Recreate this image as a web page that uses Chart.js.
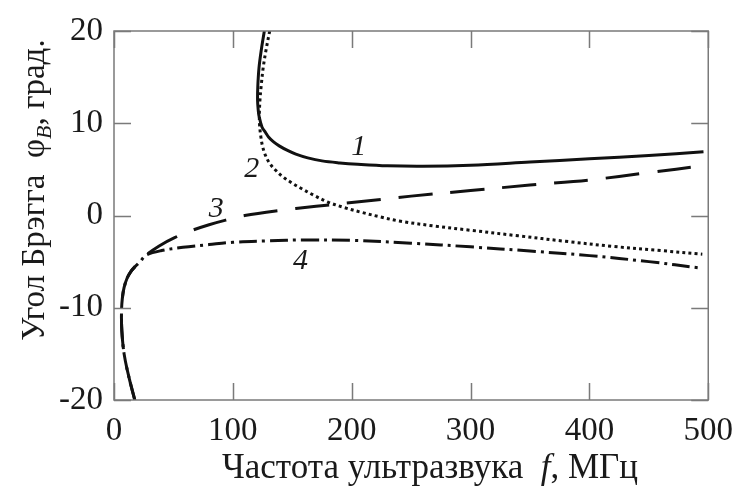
<!DOCTYPE html>
<html>
<head>
<meta charset="utf-8">
<script src="https://cdn.jsdelivr.net/npm/chart.js@4"></script>
<style>
  html, body { margin: 0; padding: 0; background: #fff; }
  #wrap { width: 745px; height: 490px; }
</style>
</head>
<body>
<div id="wrap"><canvas id="braggChart" width="745" height="490"></canvas></div>
<script>
// frequency f (MHz) and Bragg angle (deg) for each curve
const f1   = [126.5, 124, 122, 121, 120.8, 121.3, 122, 124.5, 127.5, 130, 134, 139, 146, 153, 163, 175, 190, 205, 230, 260, 300, 350, 400, 450, 496];
const phi1 = [20, 18, 16, 14, 12.5, 11.5, 10.8, 9.6, 9.0, 8.5, 8.0, 7.55, 7.05, 6.65, 6.25, 5.92, 5.7, 5.55, 5.38, 5.33, 5.45, 5.8, 6.15, 6.5, 6.9];

const f2   = [131, 128, 125.5, 123.8, 122.8, 122.3, 122.5, 123.5, 125, 127.5, 131, 136, 142, 150, 158, 168, 180, 194, 208, 224, 240, 270, 300, 340, 380, 420, 460, 495];
const phi2 = [20, 18, 16, 14, 12.5, 11, 9.8, 8.6, 7.5, 6.5, 5.65, 4.9, 4.2, 3.5, 2.9, 2.2, 1.45, 0.85, 0.35, -0.15, -0.6, -1.15, -1.6, -2.2, -2.8, -3.35, -3.8, -4.2];

const f3   = [17.5, 12.5, 8.5, 6.6, 6.3, 7.0, 8.5, 11, 14, 18, 22, 27, 38, 51, 66, 80, 94, 110, 136, 170, 200, 250, 300, 350, 400, 450, 496];
const phi3 = [-20, -17.5, -15, -12.5, -10.5, -9, -7.8, -6.8, -6.1, -5.5, -5.0, -4.3, -3.3, -2.4, -1.6, -1.0, -0.5, 0, 0.5, 1.0, 1.4, 2.1, 2.7, 3.3, 3.85, 4.65, 5.4];

const f4   = [17.5, 12.5, 8.5, 6.6, 6.3, 7.0, 8.5, 11, 14, 18, 22, 27, 40, 58, 80, 100, 130, 160, 200, 250, 300, 350, 400, 450, 494];
const phi4 = [-20, -17.5, -15, -12.5, -10.5, -9, -7.8, -6.8, -6.1, -5.5, -5.0, -4.3, -3.8, -3.45, -3.15, -2.9, -2.75, -2.65, -2.7, -3.0, -3.4, -3.85, -4.35, -5.0, -5.7];

const xTicks = [0, 100, 200, 300, 400, 500];
const yTicks = [-20, -10, 0, 10, 20];

// curve numbers placed next to their lines
const curveNames = ['1', '2', '3', '4'];
const nameF      = [206, 116, 86, 157];
const namePhi    = [7.4, 5.0, 0.65, -4.9];

const SERIF = '"Liberation Serif", "DejaVu Serif", serif';

function pts(xs, ys) {
  return xs.map((x, i) => ({ x: x, y: ys[i] }));
}

function lineSet(xs, ys, dash) {
  return {
    data: pts(xs, ys),
    borderColor: '#111',
    borderWidth: 3,
    borderDash: dash,
    borderCapStyle: 'butt',
    pointRadius: 0,
    tension: 0.35,
    fill: false
  };
}

// frame, inward ticks, axis titles and curve numbers
const decor = {
  id: 'decor',
  afterDraw(chart) {
    const ctx = chart.ctx;
    const a = chart.chartArea;
    const xs = chart.scales.x, ys = chart.scales.y;
    const tl = 17;
    ctx.save();
    ctx.strokeStyle = '#7a7a7a';
    ctx.lineWidth = 1.5;
    ctx.strokeRect(a.left, a.top, a.right - a.left, a.bottom - a.top);
    ctx.beginPath();
    xTicks.forEach(v => {
      const px = Math.round(xs.getPixelForValue(v)) + 0.5;
      ctx.moveTo(px, a.bottom); ctx.lineTo(px, a.bottom - tl);
      ctx.moveTo(px, a.top); ctx.lineTo(px, a.top + tl);
    });
    yTicks.forEach(v => {
      const py = Math.round(ys.getPixelForValue(v)) + 0.5;
      ctx.moveTo(a.left, py); ctx.lineTo(a.left + tl, py);
      ctx.moveTo(a.right, py); ctx.lineTo(a.right - tl, py);
    });
    ctx.stroke();

    ctx.fillStyle = '#1a1a1a';
    ctx.textBaseline = 'alphabetic';

    // x title
    const xParts = [
      { t: 'Частота ультразвука  ', f: '35px ' + SERIF, dy: 0 },
      { t: 'f', f: 'italic 35px ' + SERIF, dy: 0 },
      { t: ', МГц', f: '35px ' + SERIF, dy: 0 }
    ];
    drawParts(ctx, xParts, 430, 478, 0);

    // y title
    const yParts = [
      { t: 'Угол Брэгга  φ', f: '33px ' + SERIF, dy: 0 },
      { t: 'B', f: 'italic 22px ' + SERIF, dy: 7 },
      { t: ', град.', f: '33px ' + SERIF, dy: 0 }
    ];
    drawParts(ctx, yParts, 44, 190, -Math.PI / 2);

    // curve numbers
    ctx.font = 'italic 30px ' + SERIF;
    ctx.textAlign = 'center';
    ctx.textBaseline = 'middle';
    curveNames.forEach((n, i) => {
      ctx.fillText(n, xs.getPixelForValue(nameF[i]), ys.getPixelForValue(namePhi[i]));
    });
    ctx.restore();
  }
};

function drawParts(ctx, parts, cx, cy, rot) {
  let w = 0;
  parts.forEach(p => { ctx.font = p.f; p.w = ctx.measureText(p.t).width; w += p.w; });
  ctx.save();
  ctx.translate(cx, cy);
  ctx.rotate(rot);
  ctx.textAlign = 'left';
  let x = -w / 2;
  parts.forEach(p => {
    ctx.font = p.f;
    ctx.fillText(p.t, x, p.dy);
    x += p.w;
  });
  ctx.restore();
}

new Chart(document.getElementById('braggChart'), {
  type: 'line',
  data: {
    datasets: [
      lineSet(f1, phi1, []),
      lineSet(f2, phi2, [3, 3.2]),
      lineSet(f3, phi3, [34, 18]),
      lineSet(f4, phi4, [18, 5, 3, 5])
    ]
  },
  options: {
    responsive: false,
    animation: false,
    parsing: false,
    layout: { padding: { top: 31, right: 33, left: 0, bottom: 0 } },
    plugins: { legend: { display: false }, tooltip: { enabled: false } },
    scales: {
      x: {
        type: 'linear',
        min: 0, max: 500,
        afterFit: s => { s.height = 90; },
        afterBuildTicks: s => { s.ticks = xTicks.map(v => ({ value: v })); },
        grid: { display: false, drawTicks: false },
        border: { display: false },
        ticks: {
          padding: 12,
          maxRotation: 0,
          color: '#1a1a1a',
          font: { family: SERIF, size: 33 }
        }
      },
      y: {
        type: 'linear',
        min: -20, max: 20,
        afterFit: s => { s.width = 114; },
        afterBuildTicks: s => { s.ticks = yTicks.map(v => ({ value: v })); },
        grid: { display: false, drawTicks: false },
        border: { display: false },
        ticks: {
          padding: 11,
          color: '#1a1a1a',
          font: { family: SERIF, size: 33 }
        }
      }
    }
  },
  plugins: [decor]
});
</script>
</body>
</html>
